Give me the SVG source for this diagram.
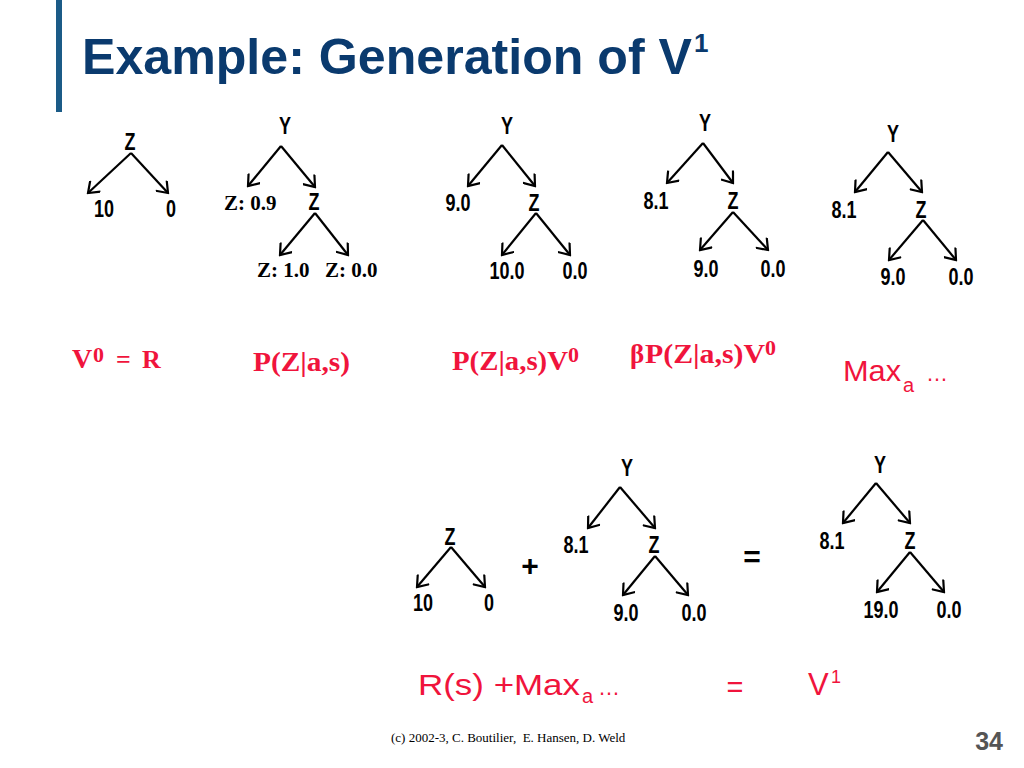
<svg xmlns="http://www.w3.org/2000/svg" width="1024" height="768" viewBox="0 0 1024 768">
<style>
.t{font-family:"Liberation Sans",Arial,sans-serif;font-weight:bold;font-size:24px;text-anchor:middle;fill:#000}
.s{font-family:"Liberation Serif","Times New Roman",serif;font-weight:bold;font-size:21px;fill:#000}
.r{font-family:"Liberation Serif","Times New Roman",serif;font-weight:bold;fill:#f0143c}
.c{font-family:"Liberation Sans",Arial,sans-serif;fill:#f0143c}
.e{stroke:#000;stroke-width:2.2;fill:none;marker-end:url(#ah)}
</style>
<defs>
<marker id="ah" viewBox="-12 -8 14 16" refX="0" refY="0" markerWidth="14" markerHeight="16" markerUnits="userSpaceOnUse" orient="auto">
<path d="M-10,-7.5 L0,0 L-10,7.5" fill="none" stroke="#000" stroke-width="2.2" stroke-linejoin="miter"/>
</marker>
</defs>
<rect width="1024" height="768" fill="#fff"/>
<rect id="bar" x="56" y="0" width="6" height="112" fill="#1b5b87"/>
<g id="title">
<text x="82" y="74" font-family="Liberation Sans,Arial,sans-serif" font-weight="bold" font-size="50" fill="#0a3a6e" textLength="610" lengthAdjust="spacingAndGlyphs">Example: Generation of V</text>
<text x="694" y="52" font-family="Liberation Sans,Arial,sans-serif" font-weight="bold" font-size="26" fill="#0a3a6e">1</text>
</g>

<g id="connectors">
<line class="e" x1="131" y1="153" x2="88" y2="193"/>
<line class="e" x1="131" y1="153" x2="168" y2="193"/>
<line class="e" x1="281" y1="146" x2="248" y2="186"/>
<line class="e" x1="281" y1="146" x2="315" y2="187"/>
<line class="e" x1="315" y1="213" x2="280" y2="255"/>
<line class="e" x1="315" y1="213" x2="348" y2="255"/>
<line class="e" x1="502" y1="145" x2="468" y2="186"/>
<line class="e" x1="502" y1="145" x2="535" y2="186"/>
<line class="e" x1="536" y1="213" x2="502" y2="255"/>
<line class="e" x1="536" y1="213" x2="570" y2="255"/>
<line class="e" x1="703" y1="143" x2="667" y2="183"/>
<line class="e" x1="703" y1="143" x2="733" y2="183"/>
<line class="e" x1="733" y1="212" x2="700" y2="250"/>
<line class="e" x1="733" y1="212" x2="768" y2="250"/>
<line class="e" x1="888" y1="152" x2="855" y2="192"/>
<line class="e" x1="888" y1="152" x2="922" y2="192"/>
<line class="e" x1="923" y1="220" x2="889" y2="260"/>
<line class="e" x1="923" y1="220" x2="956" y2="260"/>
<line class="e" x1="451" y1="547" x2="417" y2="587"/>
<line class="e" x1="451" y1="547" x2="485" y2="587"/>
<line class="e" x1="620" y1="487" x2="588" y2="528"/>
<line class="e" x1="620" y1="487" x2="655" y2="528"/>
<line class="e" x1="655" y1="556" x2="623" y2="595"/>
<line class="e" x1="655" y1="556" x2="688" y2="595"/>
<line class="e" x1="876" y1="483" x2="843" y2="523"/>
<line class="e" x1="876" y1="483" x2="910" y2="523"/>
<line class="e" x1="910" y1="552" x2="877" y2="592"/>
<line class="e" x1="910" y1="552" x2="944" y2="592"/>
</g>

<g id="tree1">
<text class="t" transform="translate(130 150) scale(.75 1)">Z</text>
<text class="t" transform="translate(104 217) scale(.75 1)">10</text>
<text class="t" transform="translate(171 217) scale(.75 1)">0</text>
</g>
<g id="tree2">
<text class="t" transform="translate(285 134) scale(.75 1)">Y</text>
<text class="s" x="224" y="210">Z: 0.9</text>
<text class="t" transform="translate(314 210) scale(.75 1)">Z</text>
<text class="s" x="257" y="277">Z: 1.0</text>
<text class="s" x="325" y="277">Z: 0.0</text>
</g>
<g id="tree3">
<text class="t" transform="translate(507 134) scale(.75 1)">Y</text>
<text class="t" transform="translate(458 211) scale(.75 1)">9.0</text>
<text class="t" transform="translate(534 211) scale(.75 1)">Z</text>
<text class="t" transform="translate(507 279) scale(.75 1)">10.0</text>
<text class="t" transform="translate(575 279) scale(.75 1)">0.0</text>
</g>
<g id="tree4">
<text class="t" transform="translate(705 131) scale(.75 1)">Y</text>
<text class="t" transform="translate(656 209) scale(.75 1)">8.1</text>
<text class="t" transform="translate(733 209) scale(.75 1)">Z</text>
<text class="t" transform="translate(706 277) scale(.75 1)">9.0</text>
<text class="t" transform="translate(773 277) scale(.75 1)">0.0</text>
</g>
<g id="tree5">
<text class="t" transform="translate(893 142) scale(.75 1)">Y</text>
<text class="t" transform="translate(844 218) scale(.75 1)">8.1</text>
<text class="t" transform="translate(921 218) scale(.75 1)">Z</text>
<text class="t" transform="translate(893 285) scale(.75 1)">9.0</text>
<text class="t" transform="translate(961 285) scale(.75 1)">0.0</text>
</g>

<g id="labels">
<text class="r"><tspan x="72" y="368" font-size="28">V</tspan><tspan x="93" y="362" font-size="22">0</tspan><tspan x="116" y="368" font-size="26">=</tspan><tspan x="142" y="368" font-size="26">R</tspan></text>
<text class="r" x="253" y="371" font-size="27" textLength="97" lengthAdjust="spacingAndGlyphs">P(Z|a,s)</text>
<text class="r"><tspan x="452" y="370" font-size="27" textLength="116" lengthAdjust="spacingAndGlyphs">P(Z|a,s)V</tspan><tspan x="568" y="362" font-size="22">0</tspan></text>
<text class="r" x="630" y="363" font-size="27" font-weight="normal">β</text>
<text class="r"><tspan x="645" y="363" font-size="27" textLength="120" lengthAdjust="spacingAndGlyphs">P(Z|a,s)V</tspan><tspan x="765" y="355" font-size="22">0</tspan></text>
<text class="c"><tspan x="843" y="381" font-size="30" textLength="58" lengthAdjust="spacingAndGlyphs">Max</tspan><tspan x="903" y="392" font-size="20">a</tspan><tspan x="926" y="381" font-size="22">…</tspan></text>
</g>

<g id="treeA">
<text class="t" transform="translate(450 545) scale(.75 1)">Z</text>
<text class="t" transform="translate(423 611) scale(.75 1)">10</text>
<text class="t" transform="translate(489 611) scale(.75 1)">0</text>
</g>
<text id="plus" class="t" x="530" y="576" style="font-size:30px">+</text>
<g id="treeB">
<text class="t" transform="translate(627 476) scale(.75 1)">Y</text>
<text class="t" transform="translate(576 553) scale(.75 1)">8.1</text>
<text class="t" transform="translate(654 553) scale(.75 1)">Z</text>
<text class="t" transform="translate(626 621) scale(.75 1)">9.0</text>
<text class="t" transform="translate(694 621) scale(.75 1)">0.0</text>
</g>
<text id="equals" class="t" x="752" y="567" style="font-size:30px">=</text>
<g id="treeC">
<text class="t" transform="translate(880 473) scale(.75 1)">Y</text>
<text class="t" transform="translate(832 549) scale(.75 1)">8.1</text>
<text class="t" transform="translate(910 549) scale(.75 1)">Z</text>
<text class="t" transform="translate(881 618) scale(.75 1)">19.0</text>
<text class="t" transform="translate(949 618) scale(.75 1)">0.0</text>
</g>

<g id="formula">
<text class="c"><tspan x="418" y="695" font-size="29" textLength="162" lengthAdjust="spacingAndGlyphs">R(s) +Max</tspan><tspan x="582" y="703" font-size="20">a</tspan><tspan x="598" y="695" font-size="22">…</tspan></text>
<text class="c" x="735" y="697" font-size="29" text-anchor="middle">=</text>
<text class="c"><tspan x="808" y="695" font-size="31">V</tspan><tspan x="831" y="683" font-size="18">1</tspan></text>
</g>

<text id="footer" x="391" y="742" font-family="Liberation Serif,Times New Roman,serif" font-size="13" fill="#000" xml:space="preserve">(c) 2002-3, C. Boutilier,  E. Hansen, D. Weld</text>
<text id="page" x="1003" y="750" font-family="Liberation Sans,Arial,sans-serif" font-weight="bold" font-size="25" fill="#555" text-anchor="end">34</text>
</svg>
